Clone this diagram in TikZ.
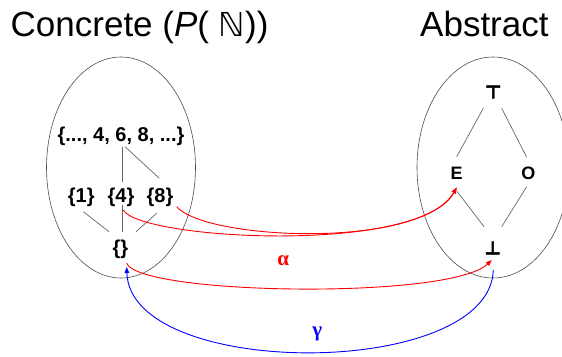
\documentclass[tikz,border=0pt]{standalone}
\usepackage{fontspec}
\setmainfont{Liberation Sans}
\newfontfamily\djv{DejaVu Sans}
\newfontfamily\djvb[FakeBold=2.5]{DejaVu Sans}
\newfontfamily\lserif{Liberation Serif}
\usetikzlibrary{arrows.meta}
\begin{document}
\begin{tikzpicture}[x=1pt,y=-1pt,
  elp/.style={draw=black!70,line width=0.6pt},
  setnode/.style={font=\fontsize{20}{22}\selectfont\bfseries,inner sep=1pt},
  absnode/.style={font=\fontsize{18}{22}\selectfont\bfseries,inner sep=1pt},
  lat/.style={draw=black!60,line width=0.7pt},
  alpharrow/.style={draw=red,line width=0.9pt,-{Triangle[length=6pt,width=4.5pt]}},
  gammarrow/.style={draw=blue,line width=0.9pt,-{Triangle[length=6pt,width=4.5pt]}},
  title/.style={font=\fontsize{35}{40}\selectfont,anchor=base west,inner sep=0pt}]
\useasboundingbox (0,0) rectangle (562,356);
% titles
\node[title] (tc) at (10.5,36) {Concrete (\textit{P}( {\djv\fontsize{33}{40}\selectfont ℕ}))};
\node[title] (ta) at (420,36) {Abstract};
% ellipses
\draw[elp] (121,167.5) ellipse [x radius=74.5, y radius=110.5];
\draw[elp] (493,167.5) ellipse [x radius=76, y radius=110.5];
% concrete nodes
\node[setnode] (all) at (121,136) {\{..., 4, 6, 8, ...\}};
\node[setnode] (s1) at (81.3,197.5) {\{1\}};
\node[setnode] (s4) at (121,197.5) {\{4\}};
\node[setnode] (s8) at (160,197.5) {\{8\}};
\node[setnode] (se) at (120.5,249) {\{\}};
% concrete lattice lines
\coordinate (a1) at (122.7,146.7); \coordinate (a2) at (122.7,181.7);
\coordinate (b1) at (125,146.7); \coordinate (b2) at (159.3,178.3);
\coordinate (c1) at (83.3,211.7); \coordinate (c2) at (109,231.7);
\coordinate (d1) at (122.7,205); \coordinate (d2) at (122.7,231.7);
\coordinate (e1) at (156.7,213.3); \coordinate (e2) at (136,231.7);
\draw[lat] (a1) -- (a2);
\draw[lat] (b1) -- (b2);
\draw[lat] (c1) -- (c2);
\draw[lat] (d1) -- (d2);
\draw[lat] (e1) -- (e2);
% abstract nodes
\node[absnode] (top) at (493.3,92) {\djvb ⊤};
\node[absnode] (E) at (456.7,173.3) {E};
\node[absnode] (O) at (528.3,173.3) {O};
\node[absnode] (bot) at (492.7,248) {\djvb ⊥};
\coordinate (f1) at (483.3,108.3); \coordinate (f2) at (456.7,156.7);
\coordinate (g1) at (501.7,108.3); \coordinate (g2) at (526.7,157.3);
\coordinate (h1) at (457.3,191.7); \coordinate (h2) at (484,226.7);
\coordinate (i1) at (526.7,186.7); \coordinate (i2) at (501.7,226.7);
\draw[lat] (f1) -- (f2);
\draw[lat] (g1) -- (g2);
\draw[lat] (h1) -- (h2);
\draw[lat] (i1) -- (i2);
% arrows
\coordinate (s8o) at (176.7,206.7);
\coordinate (s4o) at (123.3,210);
\coordinate (seo) at (126.7,263.3);
\coordinate (Ein) at (456.7,187.5);
\coordinate (botin) at (491.7,260);
\coordinate (boto) at (493.3,270);
\coordinate (sein) at (126.7,267);
\draw[alpharrow] (s8o) .. controls (205,240) and (420,250) .. (Ein);
\draw[alpharrow] (s4o) .. controls (140,240) and (420,255) .. (Ein);
\draw[alpharrow] (seo) .. controls (140,295) and (450,300) .. (botin);
\draw[gammarrow] (boto) .. controls (490,380) and (130,380) .. (sein);
\node[text=red,font=\lserif\fontsize{21}{24}\selectfont\bfseries] (alab) at (283.3,260.5) {α};
\node[text=blue,font=\lserif\fontsize{21}{24}\selectfont\bfseries] (glab) at (317.3,334) {γ};
\end{tikzpicture}
\end{document}
